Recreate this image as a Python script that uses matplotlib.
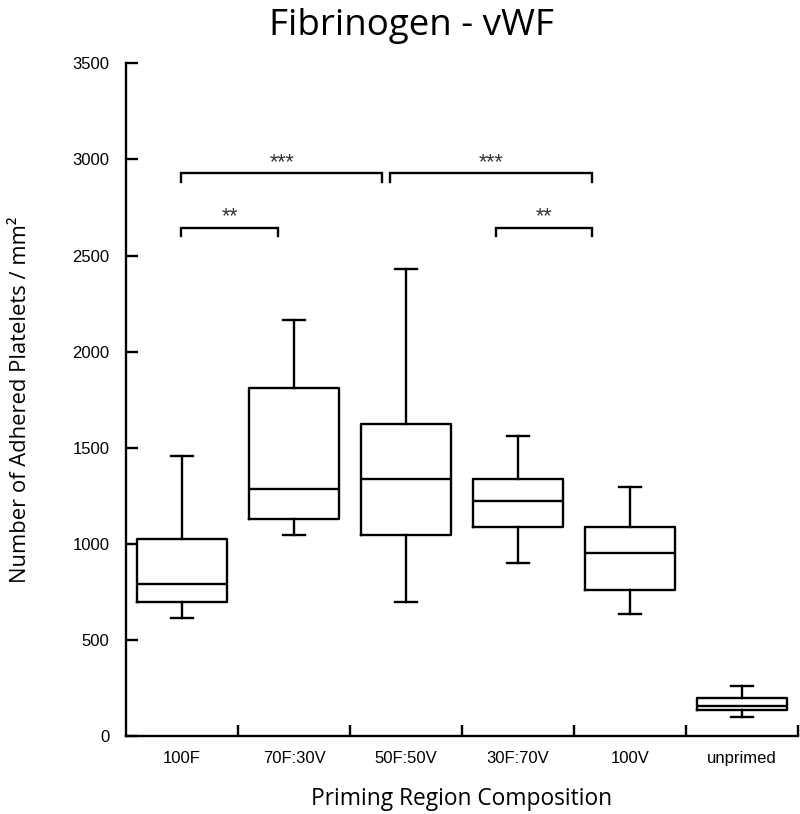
import matplotlib.pyplot as plt
from matplotlib.ticker import FixedLocator

categories = ['100F', '70F:30V', '50F:50V', '30F:70V', '100V', 'unprimed']
whis_lo = [612, 1046, 696, 902, 633, 97]
q1 = [696, 1129, 1046, 1087, 760, 137]
median = [789, 1285, 1336, 1224, 954, 158]
q3 = [1025, 1809, 1625, 1336, 1086, 199]
whis_hi = [1458, 2165, 2428, 1561, 1294, 262]

# significance brackets: (x start, x end, height, label)
brk_x0 = [0.99, 2.86, 0.99, 3.80]
brk_x1 = [2.79, 4.66, 1.86, 4.66]
brk_y = [2931, 2931, 2645, 2645]
brk_lab = ['***', '***', '**', '**']

fig = plt.figure(figsize=(8.0, 8.14), dpi=100)
ax = fig.add_axes([0.1575, 0.0958, 0.84, 0.8264])

stats = []
for i, c in enumerate(categories):
    stats.append(dict(label=c, whislo=whis_lo[i], q1=q1[i], med=median[i],
                      q3=q3[i], whishi=whis_hi[i], fliers=[]))

lw = 1.7
ax.bxp(stats, positions=range(1, len(categories) + 1), widths=0.8,
       capwidths=0.2, showfliers=False,
       boxprops=dict(color='black', linewidth=lw),
       medianprops=dict(color='black', linewidth=lw),
       whiskerprops=dict(color='black', linewidth=lw),
       capprops=dict(color='black', linewidth=lw))

for x0, x1, y, lab in zip(brk_x0, brk_x1, brk_y, brk_lab):
    ax.plot([x0, x0, x1, x1], [y - 46, y, y, y - 46], color='black',
            lw=lw, solid_joinstyle='miter')
    ax.text((x0 + x1) / 2, y + 26, lab, ha='center', va='baseline',
            fontsize=15.5, family='Liberation Sans', color='#333333')

ax.set_xlim(0.5, 6.5)
ax.set_ylim(0, 3500)
ax.set_yticks(range(0, 3501, 500))
ax.set_xticks(range(1, len(categories) + 1))
ax.set_xticklabels(categories)
ax.xaxis.set_minor_locator(FixedLocator([1.5, 2.5, 3.5, 4.5, 5.5, 6.5]))

for s in ['top', 'right']:
    ax.spines[s].set_visible(False)
for s in ['left', 'bottom']:
    ax.spines[s].set_linewidth(lw)

ax.tick_params(axis='y', direction='in', length=8.5, width=lw, pad=12)
ax.tick_params(axis='x', which='major', length=0, pad=11)
ax.tick_params(axis='x', which='minor', direction='in', length=8, width=lw)
for t in ax.get_xticklabels() + ax.get_yticklabels():
    t.set_family('Liberation Sans')
    t.set_fontsize(12)

ax.set_xlabel('Priming Region Composition', family='Open Sans', fontsize=16.4,
              labelpad=15)
ax.set_ylabel('Number of Adhered Platelets / mm²', family='Open Sans',
              fontsize=15.8, labelpad=30)
fig.text(411 / 800, 1 - 26 / 814, 'Fibrinogen - vWF', family='Open Sans',
         fontsize=26.5, ha='center', va='center')

fig.savefig('out.png', dpi=100)
